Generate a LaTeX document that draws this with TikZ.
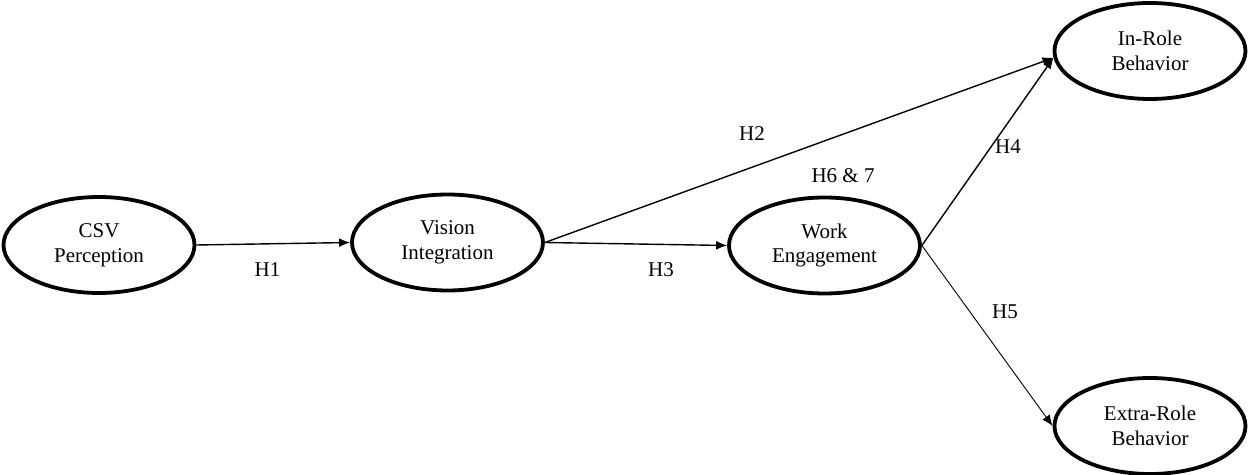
\documentclass[tikz,border=0pt]{standalone}
\usepackage{fontspec}
\setmainfont{Liberation Serif}
\usetikzlibrary{shapes.geometric,arrows.meta}

\begin{document}
\begin{tikzpicture}[x=0.5pt, y=-0.5pt,
    every node/.style = {font=\fontsize{10.5}{12.3}\selectfont, align=center},
    latent/.style = {ellipse, draw, line width=1.9pt, inner sep=0pt,
                     minimum width=95.5pt, minimum height=48pt},
    hyp/.style = {line width=0.7pt, -{Latex[length=5.5pt,width=4.5pt]}},
    lbl/.style = {inner sep=1pt}]
  \useasboundingbox (0,0) rectangle (1250,475);

  \node[latent] (csv)    at (99,245)    {CSV\\Perception};
  \node[latent] (vision) at (447.5,242.5) {Vision\\Integration};
  \node[latent] (work)   at (824.5,245.5) {Work\\Engagement};
  \node[latent] (inrole) at (1150,51)   {In-Role\\Behavior};
  \node[latent] (extra)  at (1150,426)  {Extra-Role\\Behavior};

  \draw[hyp] (csv.east) -- (vision.west);
  \draw[hyp] (vision.east) -- (inrole.184);
  \draw[hyp] (vision.east) -- (work.west);
  \draw[hyp] (work.east) -- (inrole.184);
  \draw[hyp, line width=0.45pt] (work.east) -- (extra.west);

  % path labels
  \node[lbl] (h1) at (267.5,270) {H1};
  \node[lbl] (h2) at (752,134) {H2};
  \node[lbl] (h3) at (661,270) {H3};
  \node[lbl] (h67) at (843,176) {H6 \& 7};
  \node[lbl] (h4) at (1008,147) {H4};
  \node[lbl] (h5) at (1005,312) {H5};
\end{tikzpicture}
\end{document}
